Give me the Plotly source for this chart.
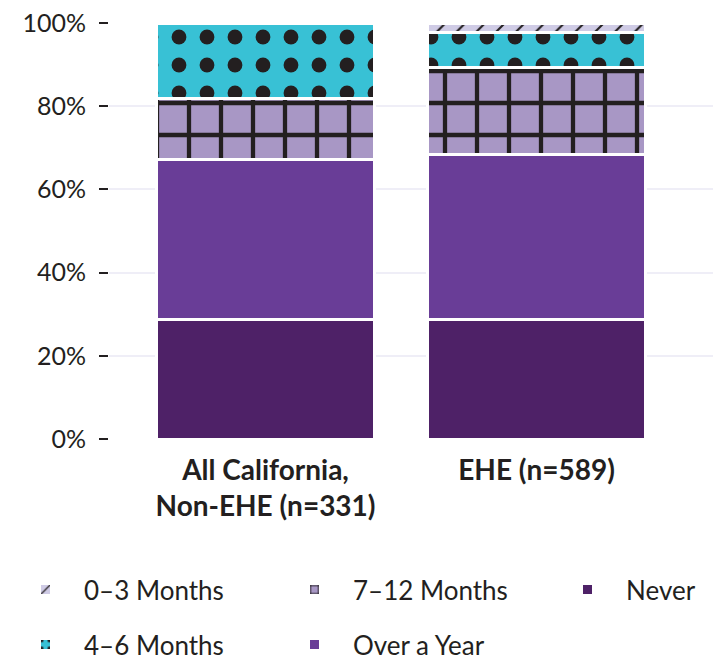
import plotly.graph_objects as go

categories = ["All California,<br>Non-EHE (n=331)", "EHE (n=589)"]

never = [28.8, 28.8]
over_a_year = [38.5, 39.5]
months_7_12 = [14.6, 21.0]
months_4_6 = [18.1, 8.4]
months_0_3 = [0.0, 2.3]

y_tick_values = [0, 20, 40, 60, 80, 100]
y_tick_labels = ["0%", "20%", "40%", "60%", "80%", "100%"]

INK = "#231f20"
FONT = "Lato"

series = [
    # name, values, color, pattern shape, pattern size, solidity, legend column
    ("Never", never, "#4e2167", "", 10, 0.3, "legend3"),
    ("Over a Year", over_a_year, "#693d97", "", 10, 0.3, "legend2"),
    ("7–12 Months", months_7_12, "#a897c5", "+", 32, 0.25, "legend2"),
    ("4–6 Months", months_4_6, "#38c1d5", ".", 28, 0.22, "legend"),
    ("0–3 Months", months_0_3, "#cfcbe5", "/", 14, 0.15, "legend"),
]
legend_rank = {"0–3 Months": 1, "7–12 Months": 2, "Never": 3, "4–6 Months": 4, "Over a Year": 5}

fig = go.Figure()
for name, vals, color, shape, psize, sol, leg in series:
    marker = dict(color=color, line=dict(color="white", width=3))
    if shape:
        marker["pattern"] = dict(shape=shape, size=psize, solidity=sol,
                                 fgcolor=INK, bgcolor=color, fillmode="replace")
    fig.add_trace(go.Bar(
        x=categories, y=vals, name=name, marker=marker,
        width=0.804, legendrank=legend_rank[name], legend=leg,
        legendgroup=name,
        hovertemplate="%{y:.1f}%<extra>" + name + "</extra>",
    ))

legend_common = dict(
    orientation="v",
    xref="container", yref="container",
    xanchor="left", y=0.146, yanchor="top",
    itemwidth=67, tracegroupgap=18,
    font=dict(family=FONT, size=26, color=INK),
    traceorder="grouped",
    bgcolor="rgba(0,0,0,0)",
)

fig.update_layout(
    barmode="stack",
    width=713, height=663,
    margin=dict(l=109, r=0, t=23, b=223.5, autoexpand=False),
    paper_bgcolor="white", plot_bgcolor="white",
    font=dict(family=FONT, color=INK),
    showlegend=True,
    legend=dict(legend_common, x=7 / 713),
    legend2=dict(legend_common, x=276 / 713),
    legend3=dict(legend_common, x=549 / 713),
)

fig.update_xaxes(
    range=[-0.5775, 1.651],
    showgrid=False, zeroline=False, showline=False, ticks="",
    tickfont=dict(family=FONT, size=28, color=INK, weight="bold"),
    ticklabelstandoff=12, automargin=False,
)
fig.update_yaxes(
    range=[0, 100],
    tickvals=y_tick_values, ticktext=y_tick_labels,
    showgrid=True, gridcolor="#efeef7", gridwidth=2,
    zeroline=False, showline=False,
    ticks="outside", ticklen=9, tickwidth=2, tickcolor=INK,
    tickfont=dict(family=FONT, size=25, color=INK),
    ticklabelstandoff=8, automargin=False,
)

fig.write_html("out.html", config={"displayModeBar": False},
               post_script="document.body.style.margin='0';")
